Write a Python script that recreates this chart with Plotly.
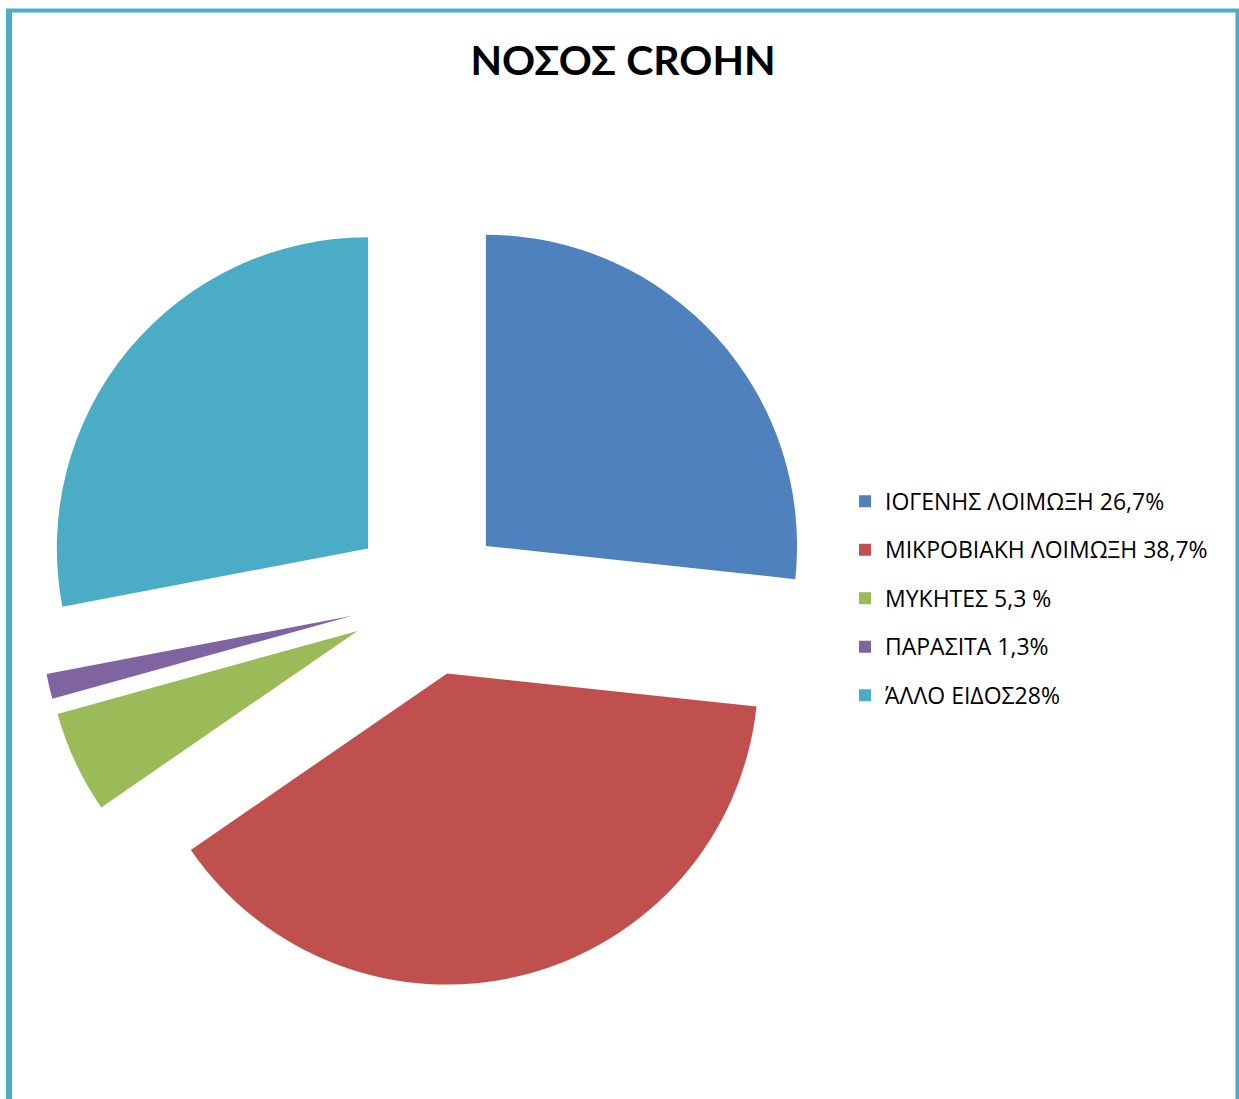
import plotly.graph_objects as go

# Infection types reported in Crohn's disease, as shares of the total
categories = [
    "ΙΟΓΕΝΗΣ ΛΟΙΜΩΞΗ 26,7%",
    "ΜΙΚΡΟΒΙΑΚΗ ΛΟΙΜΩΞΗ 38,7%",
    "ΜΥΚΗΤΕΣ 5,3 %",
    "ΠΑΡΑΣΙΤΑ 1,3%",
    "ΆΛΛΟ ΕΙΔΟΣ28%",
]
shares = [26.7, 38.7, 5.3, 1.3, 28.0]
slice_colors = ["#4F81BD", "#C0504D", "#9BBB59", "#8064A2", "#4BACC6"]

W, H = 1239, 1099
TITLE_FONT = "Lato, 'Open Sans', sans-serif"
LEGEND_FONT = "'Open Sans', 'Noto Sans', sans-serif"
FRAME = "#4BACC6"


def px_x(x):
    return x / W


def px_y(y):
    return 1 - y / H


# legend lines use a larger base size so entries get generous spacing;
# the visible text is smaller and nudged up to sit level with its swatch
legend_labels = [
    f'<span style="font-size:23px;baseline-shift:5.5px">{c}</span>' for c in categories
]

fig = go.Figure(
    go.Pie(
        labels=legend_labels,
        values=shares,
        sort=False,
        direction="clockwise",
        rotation=0,
        pull=[0.25] * len(shares),
        marker=dict(colors=slice_colors, line=dict(width=0)),
        textinfo="none",
        hoverinfo="none",
        domain=dict(x=[px_x(39), px_x(817)], y=[px_y(987), px_y(209)]),
    )
)

fig.update_layout(
    width=W,
    height=H,
    margin=dict(l=0, r=0, t=0, b=0),
    paper_bgcolor="white",
    plot_bgcolor="white",
    title=dict(
        text="<b>ΝΟΣΟΣ CROHN</b>",
        x=px_x(623),
        xanchor="center",
        xref="paper",
        y=px_y(61),
        yanchor="middle",
        yref="paper",
        font=dict(family=TITLE_FONT, size=41, color="black"),
    ),
    legend=dict(
        x=px_x(845),
        xanchor="left",
        y=px_y(472),
        yanchor="top",
        font=dict(family=LEGEND_FONT, size=35, color="black"),
        bgcolor="rgba(0,0,0,0)",
    ),
    shapes=[
        dict(type="line", xref="paper", yref="paper",
             x0=px_x(9), x1=px_x(9), y0=px_y(9), y1=px_y(H + 5),
             line=dict(color=FRAME, width=6)),
        dict(type="line", xref="paper", yref="paper",
             x0=px_x(6), x1=px_x(1239), y0=px_y(10.5), y1=px_y(10.5),
             line=dict(color=FRAME, width=4)),
        dict(type="line", xref="paper", yref="paper",
             x0=px_x(1237.5), x1=px_x(1237.5), y0=px_y(9), y1=px_y(H + 5),
             line=dict(color=FRAME, width=4)),
    ],
)

fig.write_html("out.html")
